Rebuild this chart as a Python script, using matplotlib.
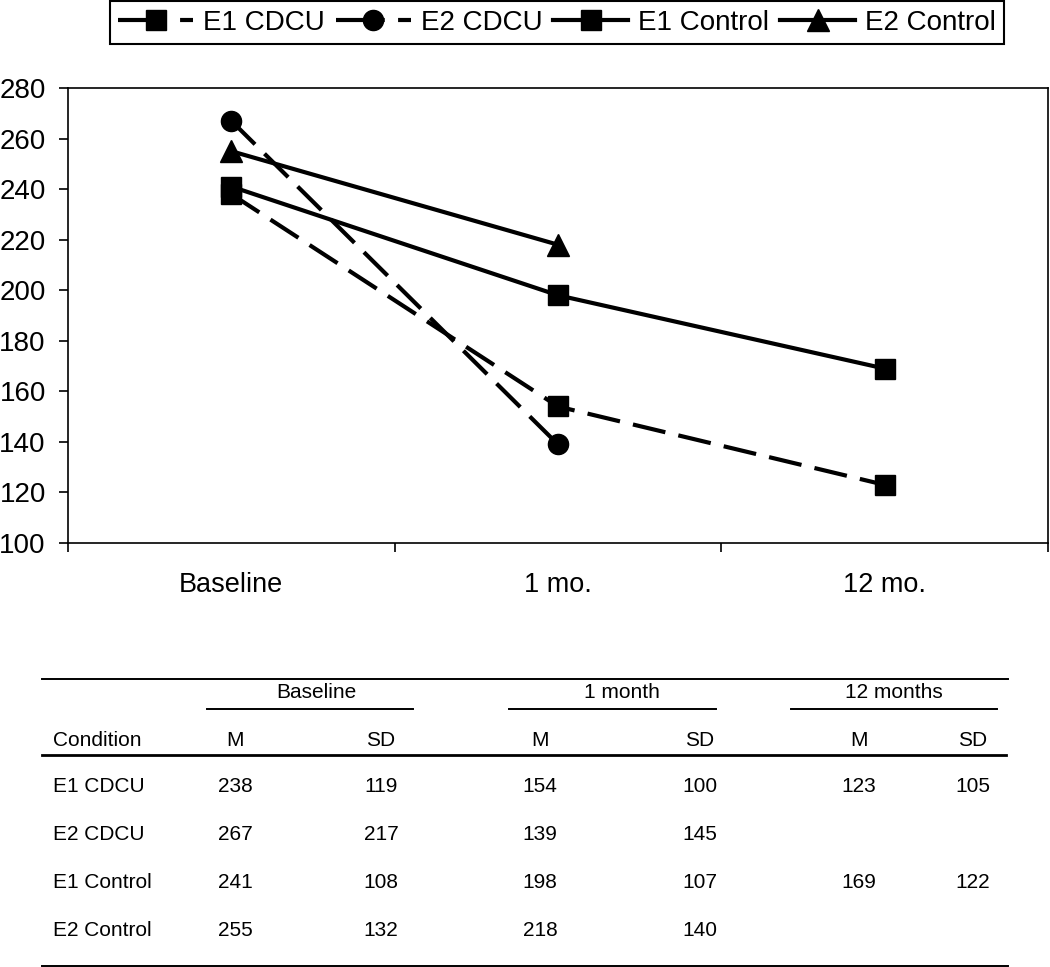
import matplotlib.pyplot as plt
from matplotlib.lines import Line2D

plt.rcParams['font.family'] = ['Liberation Sans', 'DejaVu Sans']

# chart data
timepoints = ["Baseline", "1 mo.", "12 mo."]
e1_cdcu = [238, 154, 123]
e2_cdcu = [267, 139]
e1_control = [241, 198, 169]
e2_control = [255, 218]

# table data
groups = ["Baseline", "1 month", "12 months"]
conditions = ["E1 CDCU", "E2 CDCU", "E1 Control", "E2 Control"]
table_rows = [
    ["238", "119", "154", "100", "123", "105"],
    ["267", "217", "139", "145", "", ""],
    ["241", "108", "198", "107", "169", "122"],
    ["255", "132", "218", "140", "", ""],
]

W, H = 1050, 967
fig = plt.figure(figsize=(W / 100, H / 100), dpi=100)
ax = fig.add_axes([68 / W, 1 - 543 / H, 980 / W, 455 / H])

dash = (0, (8, 3.2))
leg_dash = (0, (11.7, 3.2, 8, 3.2))  # gap lands just right of the marker in the legend
lw = 3.0
pos = [0.5, 1.5, 2.5]

series = [
    ("E1 CDCU", e1_cdcu, dash, 's', 14.5),
    ("E2 CDCU", e2_cdcu, dash, 'o', 14.5),
    ("E1 Control", e1_control, '-', 's', 14.5),
    ("E2 Control", e2_control, '-', '^', 16),
]
handles = []
for name, vals, ls, mk, ms in series:
    ax.plot(pos[:len(vals)], vals, color='black', lw=lw, linestyle=ls, marker=mk, ms=ms)
    handles.append(Line2D([], [], color='black', lw=lw, marker=mk, ms=ms,
                          linestyle=leg_dash if ls != '-' else '-', label=name))

ax.set_xlim(0, 3)
ax.set_ylim(100, 280)
ax.set_yticks(range(100, 281, 20))
ax.set_xticks([0, 1, 2, 3])
ax.set_xticklabels([])
ax.set_xticks(pos, minor=True)
ax.set_xticklabels(timepoints, minor=True)
ax.tick_params(axis='x', which='minor', length=0, pad=21, labelsize=19.5)
ax.tick_params(axis='x', which='major', length=6.5, width=1.2, direction='out')
ax.tick_params(axis='y', length=6.5, width=1.2, direction='out', labelsize=20, pad=9.5)
for sp in ax.spines.values():
    sp.set_linewidth(1.2)

leg = fig.legend(handles=handles, loc='upper center', bbox_to_anchor=(557 / W, 1 - 1.5 / H), ncol=4,
                 fontsize=20, frameon=True, fancybox=False, edgecolor='black',
                 framealpha=1, handlelength=2.7, columnspacing=0.4, handletextpad=0.35,
                 borderpad=0.3, borderaxespad=0)
leg.get_frame().set_linewidth(1.5)


# table drawn in pixel coordinates
def fx(px):
    return px / W


def fy(py):
    return 1 - py / H


def hline(x0, x1, y, lw=1.2):
    fig.add_artist(Line2D([fx(x0), fx(x1)], [fy(y), fy(y)], color='black', lw=lw))


tfs = 15
hline(42, 1008, 679, 1.4)
group_x = [316, 622, 894]
group_lines = [(207, 413), (509, 716), (791, 997)]
for g, gx, (a, b) in zip(groups, group_x, group_lines):
    fig.text(fx(gx), fy(692), g, ha='center', va='center', fontsize=tfs)
    hline(a, b, 709, 1.4)

col_x = [235, 381, 540, 700, 859, 973]
fig.text(fx(53), fy(740), "Condition", ha='left', va='center', fontsize=tfs)
for i, cx in enumerate(col_x):
    fig.text(fx(cx), fy(740), "M" if i % 2 == 0 else "SD", ha='center', va='center', fontsize=tfs)
hline(42, 1006, 755, 2.0)

row_y = [786, 834, 882, 930]
for cond, vals, ry in zip(conditions, table_rows, row_y):
    fig.text(fx(53), fy(ry), cond, ha='left', va='center', fontsize=tfs)
    for v, cx in zip(vals, col_x):
        fig.text(fx(cx), fy(ry), v, ha='center', va='center', fontsize=tfs)
hline(42, 1008, 966, 1.4)

fig.savefig("out.png", dpi=100)
